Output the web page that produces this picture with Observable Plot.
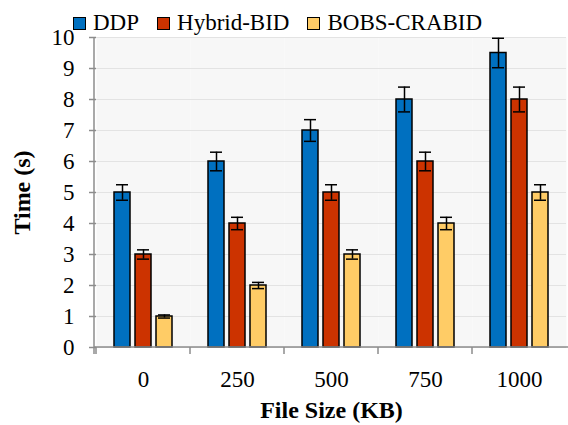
<!DOCTYPE html>
<html><head><meta charset="utf-8">
<script src="https://cdn.jsdelivr.net/npm/d3@7"></script>
<script src="https://cdn.jsdelivr.net/npm/@observablehq/plot@0.6"></script>
<style>
body{margin:0;background:#fff;font-family:'Liberation Serif',serif;}
#legend{height:22px;position:relative;font-size:23px;font-family:'Liberation Serif',serif;}
#legend .row{position:absolute;left:73px;top:9px;height:28px;display:flex;align-items:center;line-height:28px;white-space:nowrap;}
#legend .item{display:flex;align-items:center;margin-right:18px;}
#legend .sw{width:11px;height:11px;border:1.5px solid #000;margin-right:7px;}
#chart svg{overflow:visible;}
g[aria-label="fx-axis label"] text, g[aria-label="y-axis label"] text{font-weight:bold;font-size:24px;}
</style>
</head><body>
<div id="legend"><div class="row"></div></div>
<div id="chart"></div>
<script>
const fileSizes = ["0", "250", "500", "750", "1000"];
const seriesNames = ["DDP", "Hybrid-BID", "BOBS-CRABID"];
const ddpValues = [5, 6, 7, 8, 9.5];
const hybridValues = [3, 4, 5, 6, 8];
const bobsValues = [1, 2, 3, 4, 5];
const ddpErr = [0.25, 0.3, 0.35, 0.4, 0.475];
const hybridErr = [0.15, 0.2, 0.25, 0.3, 0.4];
const bobsErr = [0.05, 0.1, 0.15, 0.2, 0.25];
const colors = ["#0070C0", "#CC3300", "#FFCC66"];
const yTicks = [0, 1, 2, 3, 4, 5, 6, 7, 8, 9, 10];

const valueSets = [ddpValues, hybridValues, bobsValues];
const errSets = [ddpErr, hybridErr, bobsErr];
const data = [];
fileSizes.forEach((s, i) => seriesNames.forEach((n, j) => {
  data.push({size: s, series: n, value: valueSets[j][i], lo: valueSets[j][i] - errSets[j][i], hi: valueSets[j][i] + errSets[j][i]});
}));

// legend
const lg = d3.select("#legend .row");
seriesNames.forEach((n, j) => {
  const it = lg.append("div").attr("class", "item");
  it.append("div").attr("class", "sw").style("background", colors[j]);
  it.append("span").text(n);
});

const chart = Plot.plot({
  width: 568, height: 403,
  marginLeft: 94, marginRight: 0, marginTop: 15, marginBottom: 78,
  style: {fontFamily: "Liberation Serif", fontSize: "23px", background: "transparent", color: "#000"},
  fx: {domain: fileSizes, padding: 0},
  x: {domain: seriesNames, paddingInner: 0.25, paddingOuter: 0.78, axis: null},
  y: {domain: [0, 10]},
  color: {domain: seriesNames, range: colors},
  marks: [
    Plot.frame({fill: "#f7f7f7", stroke: null}),
    Plot.gridY(yTicks, {stroke: "#e3e3e3", strokeOpacity: 1, strokeWidth: 1}),
    Plot.barY(data, {fx: "size", x: "series", y: "value", fill: "series", stroke: "#000", strokeWidth: 1.5}),
    Plot.ruleX(data, {fx: "size", x: "series", y1: "lo", y2: "hi", stroke: "#000", strokeWidth: 1.5}),
    Plot.tickY(data, {fx: "size", x: "series", y: "lo", stroke: "#000", strokeWidth: 1.5, inset: 2}),
    Plot.tickY(data, {fx: "size", x: "series", y: "hi", stroke: "#000", strokeWidth: 1.5, inset: 2}),
    Plot.axisY(yTicks, {tickSize: 7, tickPadding: 15, stroke: "#8c8c8c", strokeWidth: 1.5, fontSize: 23,
      label: "Time (s)", labelAnchor: "center", labelArrow: "none", labelOffset: 84}),
    Plot.axisFx({anchor: "bottom", tickSize: 0, tickPadding: 23, fontSize: 23,
      label: "File Size (KB)", labelAnchor: "center", labelArrow: "none", labelOffset: 70})
  ]
});
document.getElementById("chart").appendChild(chart);

// axis lines and category separator ticks, positioned with Plot's own scales
const fx = chart.scale("fx"), y = chart.scale("y");
const svg = d3.select(chart);
const y0 = y.apply(0), yTop = y.apply(10);
const xStart = fx.range[0], xEnd = fx.range[1];
const g = svg.append("g").attr("stroke", "#8c8c8c").attr("stroke-width", 1.5);
g.append("line").attr("x1", xStart).attr("x2", xStart).attr("y1", yTop).attr("y2", y0 + 7);
g.append("line").attr("x1", xStart).attr("x2", xEnd).attr("y1", y0).attr("y2", y0);
fileSizes.forEach(s => {
  const xb = fx.apply(s);
  g.append("line").attr("x1", xb).attr("x2", xb).attr("y1", y0).attr("y2", y0 + 7);
});
</script>
</body></html>
